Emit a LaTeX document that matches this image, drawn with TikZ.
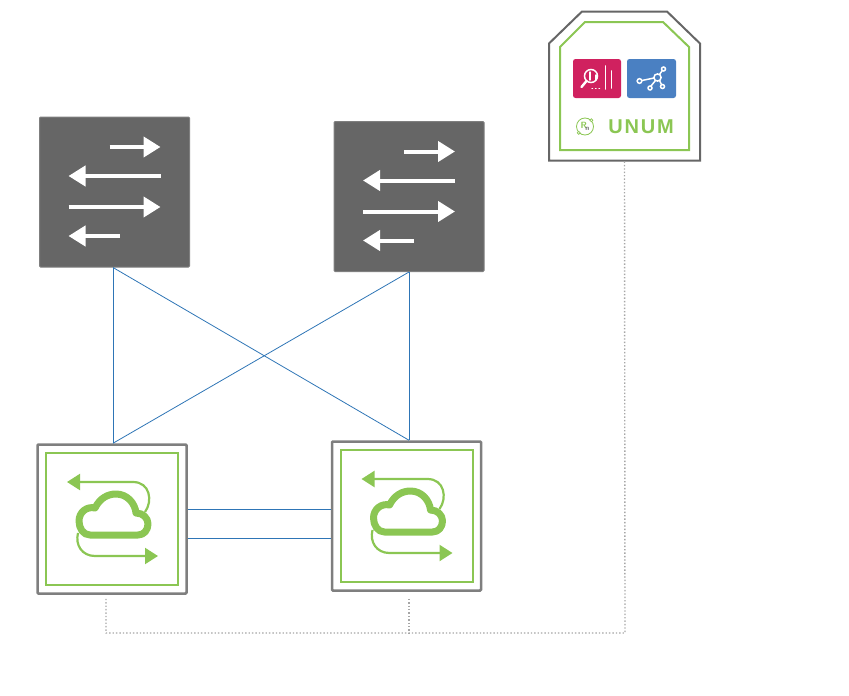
\documentclass[tikz,border=0pt]{standalone}
\usepackage{fontspec}
\usepackage{xcolor}
\usepackage{tikz}
\usetikzlibrary{arrows.meta,positioning}
\newfontfamily\unumfont[LetterSpace=9]{Liberation Sans}
\definecolor{leafgreen}{HTML}{8BC653}
\definecolor{boxgray}{HTML}{666666}
\definecolor{edgegray}{HTML}{7F7F7F}
\definecolor{linkblue}{HTML}{2E75B6}
\definecolor{dotgray}{HTML}{A6A6A6}
\definecolor{pinkfill}{HTML}{D0215F}
\definecolor{bluefill}{HTML}{4A80C2}
\tikzset{
	spine/.style={draw=edgegray,fill=boxgray,line width=1pt,rounded corners=1pt,minimum size=150pt,inner sep=0pt},
	leaf/.style={draw=edgegray,line width=2.5pt,rounded corners=1pt,minimum size=149pt,inner sep=0pt},
	leafin/.style={draw=leafgreen,line width=2pt,minimum size=132pt,inner sep=0pt},
	tile/.style={rounded corners=2.5pt,minimum height=39pt,inner sep=0pt},
	link/.style={draw=linkblue,line width=0.8pt},
	mgmt/.style={draw=dotgray,line width=1.4pt,dash pattern=on 1.4pt off 2pt},
	whitearrow/.style={draw=white,line width=4pt,-{Triangle[length=17pt,width=20pt]}},
	greenarrow/.style={draw=leafgreen,line width=2.2pt,-{Triangle[length=13pt,width=16pt]}},
	glyphline/.style={draw=white,line width=1.5pt,line cap=round}
}
\newcommand{\trafficglyph}[1]{
	\begin{scope}[shift={(#1.center)}]
		\draw[whitearrow] (-5,-45) -- (46,-45);
		\draw[whitearrow] (46,-16) -- (-46,-16);
		\draw[whitearrow] (-46,15) -- (46,15);
		\draw[whitearrow] (5,44) -- (-46,44);
	\end{scope}
}
\newcommand{\cloudglyph}[1]{
	\begin{scope}[shift={(#1.center)}]
		\draw[greenarrow] (33,-7) .. controls (41,-18) and (38,-37) .. (21,-37) -- (-45,-37);
		\draw[greenarrow] (-34,14) .. controls (-37,26) and (-30,37) .. (-17,37) -- (46,37);
		\draw[draw=leafgreen,fill=white,line width=7pt,line join=round] (-22,16) .. controls (-29,16) and (-33,9) .. (-33,2) .. controls (-33,-7) and (-25,-13) .. (-17,-11) .. controls (-12,-21) and (-4,-25) .. (4,-25) .. controls (15,-25) and (23,-16) .. (24,-6) .. controls (31,-6) and (36,-1) .. (36,5) .. controls (36,11) and (32,16) .. (26,16) -- cycle;
	\end{scope}
}
\begin{document}
\begin{tikzpicture}[x=1pt,y=-1pt]
		\useasboundingbox (0,0) rectangle (849,696);
		\node[spine] (spine1) at (114.5,192) {};
		\node[spine] (spine2) at (409,196.5) {};
		\node[leaf] (leaf1) at (112,519) {};
		\node[leaf] (leaf2) at (406.5,516) {};
		\node[leafin] (leaf1in) at (leaf1.center) {};
		\node[leafin] (leaf2in) at (leaf2.center) {};
		\trafficglyph{spine1}
		\trafficglyph{spine2}
		\cloudglyph{leaf1}
		\cloudglyph{leaf2}
		% UNUM box
		\node[minimum width=151pt,minimum height=149pt,inner sep=0pt] (unum) at (624.5,86) {};
		\draw[boxgray,line width=2pt] (549,43.5) -- (582,11.5) -- (667,11.5) -- (700,43.5) -- (700,160.5) -- (549,160.5) -- cycle;
		\draw[leafgreen,line width=2pt] (560,47) -- (585,22) -- (663,22) -- (689,47) -- (689,150) -- (560,150) -- cycle;
		\node[tile,fill=pinkfill,minimum width=48pt] (pinktile) at (597,78.5) {};
		\node[tile,fill=bluefill,minimum width=49pt] (bluetile) at (651.5,78.5) {};
		\node[text=leafgreen,font=\unumfont\bfseries\fontsize{20}{20}\selectfont,inner sep=0pt] (unumlabel) at (641,127) {UNUM};
		\node[circle,draw=leafgreen,line width=0.8pt,minimum size=17pt,inner sep=0pt,font=\sffamily\bfseries\fontsize{9}{9}\selectfont,text=leafgreen] (rnlogo) at (585,126.5) {R\kern-1.5pt\raisebox{-2pt}{\textcolor{boxgray}{\fontsize{7}{7}\selectfont n}}};
		\draw[leafgreen,fill=white,line width=0.7pt] (rnlogo.north east) circle (1.5);
		\draw[leafgreen,fill=white,line width=0.7pt] (rnlogo.south west) circle (1.5);
		% tile glyphs
		\draw[glyphline] (591,76) circle (6.5);
		\draw[glyphline,line width=2.4pt] (586.5,81) -- (581.5,87);
		\draw[glyphline] (590,72) -- (590,80);
		\draw[glyphline] (596,75) -- (596,80);
		\draw[glyphline,line width=1.8pt] (605.5,66) -- (605.5,89);
		\draw[glyphline,line width=1.8pt] (611.5,71) -- (611.5,88);
		\draw[glyphline,dash pattern=on 0.5pt off 3pt] (592,88.5) -- (601,88.5);
		\draw[glyphline] (657.5,77.5) circle (3.6);
		\draw[glyphline] (659.5,74.5) -- (662.3,70.5);
		\draw[glyphline] (654,78) -- (642,80.5);
		\draw[glyphline] (655.5,80.5) -- (651,86);
		\draw[glyphline] (659.5,80.5) -- (661.5,84.5);
		\draw[glyphline] (663.5,69) circle (2);
		\draw[glyphline] (639.5,81) circle (2.3);
		\draw[glyphline] (650,88) circle (2);
		\draw[glyphline] (662.5,86.5) circle (2);
		% links
		\draw[link] ([xshift=-1.5pt]spine1.south) -- ([xshift=1pt]leaf1.north);
		\draw[link] ([xshift=-1.5pt]spine1.south) -- ([xshift=2.5pt]leaf2.north);
		\draw[link] (spine2.south) -- ([xshift=1pt]leaf1.north);
		\draw[link] (spine2.south) -- ([xshift=2.5pt]leaf2.north);
		\draw[link] ([yshift=10pt]leaf1.east) -- ([yshift=7pt]leaf2.west);
		\draw[link] ([yshift=-19pt]leaf1.east) -- ([yshift=-22pt]leaf2.west);
		% management
		\coordinate (busleft) at (106,633);
		\coordinate (busmid) at (409,633);
		\coordinate (busright) at (625,633);
		\draw[mgmt] ([xshift=-6pt,yshift=-4pt]leaf1.south) -- (busleft) -- (busright) -- (unum.south);
		\draw[mgmt] ([xshift=2.5pt,yshift=-7pt]leaf2.south) -- (busmid);
\end{tikzpicture}
\end{document}
